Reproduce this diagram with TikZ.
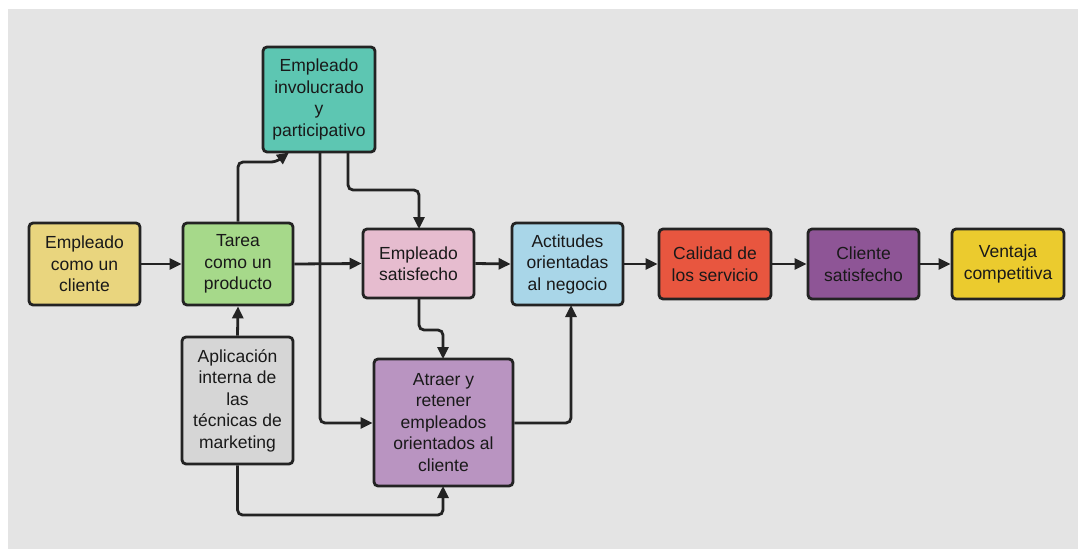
\documentclass[tikz,border=0pt]{standalone}
\usepackage{fontspec}
\setmainfont{Liberation Sans}
\usetikzlibrary{arrows.meta}
\definecolor{bg}{HTML}{E4E4E4}
\definecolor{edge}{HTML}{232323}
\definecolor{cYel}{HTML}{E9D57E}
\definecolor{cGreen}{HTML}{A6D98A}
\definecolor{cTeal}{HTML}{5DC6B2}
\definecolor{cPink}{HTML}{E6BCCF}
\definecolor{cBlue}{HTML}{A9D6E8}
\definecolor{cRed}{HTML}{E8563F}
\definecolor{cPurp}{HTML}{8E5596}
\definecolor{cGold}{HTML}{EBCB2E}
\definecolor{cGray}{HTML}{D6D6D6}
\definecolor{cMauve}{HTML}{B994C1}
\begin{document}
\begin{tikzpicture}[x=1pt,y=-1pt,
  box/.style={draw=edge,line width=2.8pt,rounded corners=4pt,align=center,
    font=\fontsize{17.5}{21.5}\selectfont,text=black!90,inner sep=0pt},
  conn/.style={draw=edge,line width=2.8pt,-{Triangle[length=12pt,width=11pt]},rounded corners=5pt}]
\useasboundingbox (0,0) rectangle (1078,551);
\fill[white] (0,0) rectangle (1078,551);
\fill[bg] (8,9) rectangle (1078,549);
\newcommand{\mkbox}[6]{\node[box,fill=#6,minimum width={#4-#2},minimum height={#5-#3}] (#1) at ({(#2+#4)/2},{(#3+#5)/2}) {};}
% boxes: name, x1, y1, x2, y2, colour
\mkbox{cli}{29}{223}{140}{305}{cYel}
\mkbox{tar}{183}{223}{293}{305}{cGreen}
\mkbox{inv}{263}{47}{375}{152}{cTeal}
\mkbox{sat}{363}{229}{474}{298}{cPink}
\mkbox{act}{512}{223}{623}{305}{cBlue}
\mkbox{cal}{659}{229}{771}{299}{cRed}
\mkbox{cs}{808}{229}{919}{299}{cPurp}
\mkbox{ven}{952}{229}{1064}{299}{cGold}
\mkbox{apl}{182}{337}{293}{464}{cGray}
\mkbox{atr}{374}{359}{513}{486}{cMauve}
% texts
\tikzset{lbl/.style={align=center,font=\fontsize{17.5}{21.5}\selectfont,text=black!90,inner sep=0pt}}
\node[lbl] at (cli) {Empleado\\como un\\cliente};
\node[lbl] at (tar) {Tarea\\como un\\producto};
\node[lbl] at (inv) {Empleado\\involucrado\\y\\participativo};
\node[lbl] at (sat) {Empleado\\satisfecho};
\node[lbl] at (act) {Actitudes\\orientadas\\al negocio};
\node[lbl] at (cal) {Calidad de\\los servicio};
\node[lbl] at (cs) {Cliente\\satisfecho};
\node[lbl] at (ven) {Ventaja\\competitiva};
\node[lbl] at (apl) {Aplicación\\interna de\\las\\técnicas de\\marketing};
\node[lbl] at (atr) {Atraer y\\retener\\empleados\\orientados al\\cliente};
% connectors
\draw[conn] (cli.east) -- (tar.west);
\draw[conn] (tar.east) -- (sat.west);
\draw[conn] (sat.east) -- (act.west);
\draw[conn] (act.east) -- (cal.west);
\draw[conn] (cal.east) -- (cs.west);
\draw[conn] (cs.east) -- (ven.west);
\draw[conn] (tar.north) |- (276,162) -- (289,152.5);
\draw[conn] (320,152) |- (atr.west |- 0,423);
\draw[conn] (348,152) |- (419,190) -- (419,229);
\draw[conn] (419,298) |- (443,330) -- (443,359);
\draw[conn] (atr.east |- 0,423) -| (571,305);
\draw[conn] (apl.north) -- (tar.south);
\draw[conn] (apl.south) |- (443,515) -- (443,486);
\end{tikzpicture}
\end{document}
